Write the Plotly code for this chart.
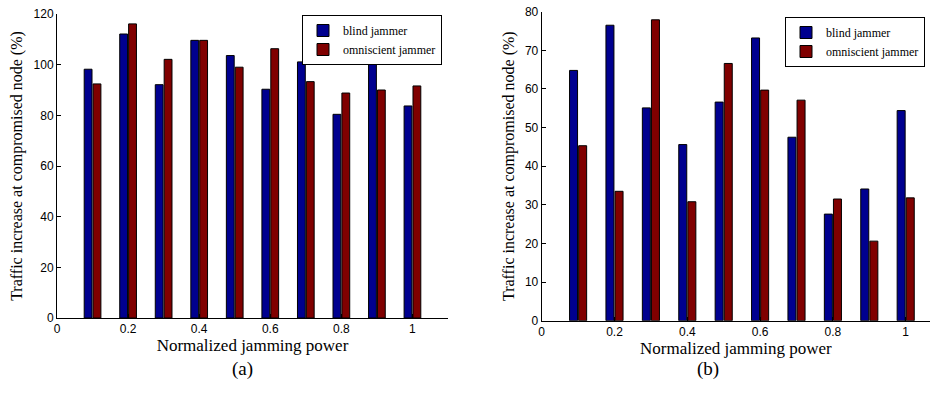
import plotly.graph_objects as go

power = [0.1, 0.2, 0.3, 0.4, 0.5, 0.6, 0.7, 0.8, 0.9, 1.0]
blind_a = [98.2, 112.1, 92.1, 109.6, 103.6, 90.3, 101.1, 80.4, 103.2, 83.7]
omni_a = [92.4, 116.1, 102.1, 109.6, 99.0, 106.3, 93.3, 88.8, 90.0, 91.6]
blind_b = [64.8, 76.5, 55.1, 45.6, 56.6, 73.2, 47.5, 27.6, 34.1, 54.4]
omni_b = [45.3, 33.5, 77.9, 30.8, 66.6, 59.7, 57.1, 31.5, 20.6, 31.8]
xtick_vals = [0, 0.2, 0.4, 0.6, 0.8, 1.0]
xtick_text = ["0", "0.2", "0.4", "0.6", "0.8", "1"]
names = ["blind jammer", "omniscient jammer"]
colors = ["#00008F", "#800000"]

W, H = 930, 397
fig = go.Figure()

serif = "Liberation Serif"
sans = "Liberation Sans"

for (vals, name, col) in zip([blind_a, omni_a], names, colors):
    fig.add_trace(go.Bar(x=power, y=vals, name=name, marker_color=col,
                         marker_line=dict(color="black", width=1),
                         xaxis="x", yaxis="y", legend="legend", offsetgroup=name))
for (vals, name, col) in zip([blind_b, omni_b], names, colors):
    fig.add_trace(go.Bar(x=power, y=vals, name=name, marker_color=col,
                         marker_line=dict(color="black", width=1),
                         xaxis="x2", yaxis="y2", legend="legend2", offsetgroup=name))

axis_common = dict(showline=True, linecolor="black", linewidth=1, ticks="inside",
                   ticklen=4, tickcolor="black", showgrid=False, zeroline=False,
                   tickfont=dict(family=sans, size=12, color="black"), mirror=False)

legend_common = dict(yanchor="top", bordercolor="black", borderwidth=1, bgcolor="white",
                     font=dict(family=serif, size=12, color="black"), tracegroupgap=0,
                     itemwidth=30)

fig.update_layout(
    width=W, height=H, margin=dict(l=0, r=0, t=0, b=0, autoexpand=False),
    paper_bgcolor="white", plot_bgcolor="white",
    barmode="group", bargap=0.5, bargroupgap=0.12,
    xaxis=dict(domain=[57 / W, 448 / W], range=[0, 1.1], anchor="y",
               tickvals=xtick_vals, ticktext=xtick_text,
               title=dict(text="Normalized jamming power", font=dict(family=serif, size=17, color="black"), standoff=2),
               **axis_common),
    yaxis=dict(domain=[1 - 318 / H, 1 - 14 / H], range=[0, 120], anchor="x",
               tickvals=[0, 20, 40, 60, 80, 100, 120],
               title=dict(text="Traffic increase at compromised node (%)", font=dict(family=serif, size=16, color="black"), standoff=6),
               **axis_common),
    xaxis2=dict(domain=[541.7 / W, 1.0], range=[0, (W - 541.7) / 364], anchor="y2",
                tickvals=xtick_vals, ticktext=xtick_text,
                title=dict(text="Normalized jamming power", font=dict(family=serif, size=17, color="black"), standoff=2),
                **axis_common),
    yaxis2=dict(domain=[1 - 320.7 / H, 1 - 11.7 / H], range=[0, 80], anchor="x2",
                tickvals=[0, 10, 20, 30, 40, 50, 60, 70, 80],
                title=dict(text="Traffic increase at compromised node (%)", font=dict(family=serif, size=16, color="black"), standoff=6),
                **axis_common),
    legend=dict(x=442 / W, y=1 - 15 / H, xanchor="right", **legend_common),
    legend2=dict(x=925 / W, y=1 - 17 / H, xanchor="right", **legend_common),
    annotations=[
        dict(text="(a)", x=230 / W, y=1 - 382 / H, xref="paper", yref="paper",
             showarrow=False, font=dict(family=serif, size=19, color="black")),
        dict(text="(b)", x=721 / W, y=1 - 382 / H, xref="paper", yref="paper",
             showarrow=False, font=dict(family=serif, size=19, color="black")),
    ],
)

fig.write_html("out.html", config={"displayModeBar": False},
               post_script="document.body.style.margin='0';document.body.style.overflow='hidden';")
